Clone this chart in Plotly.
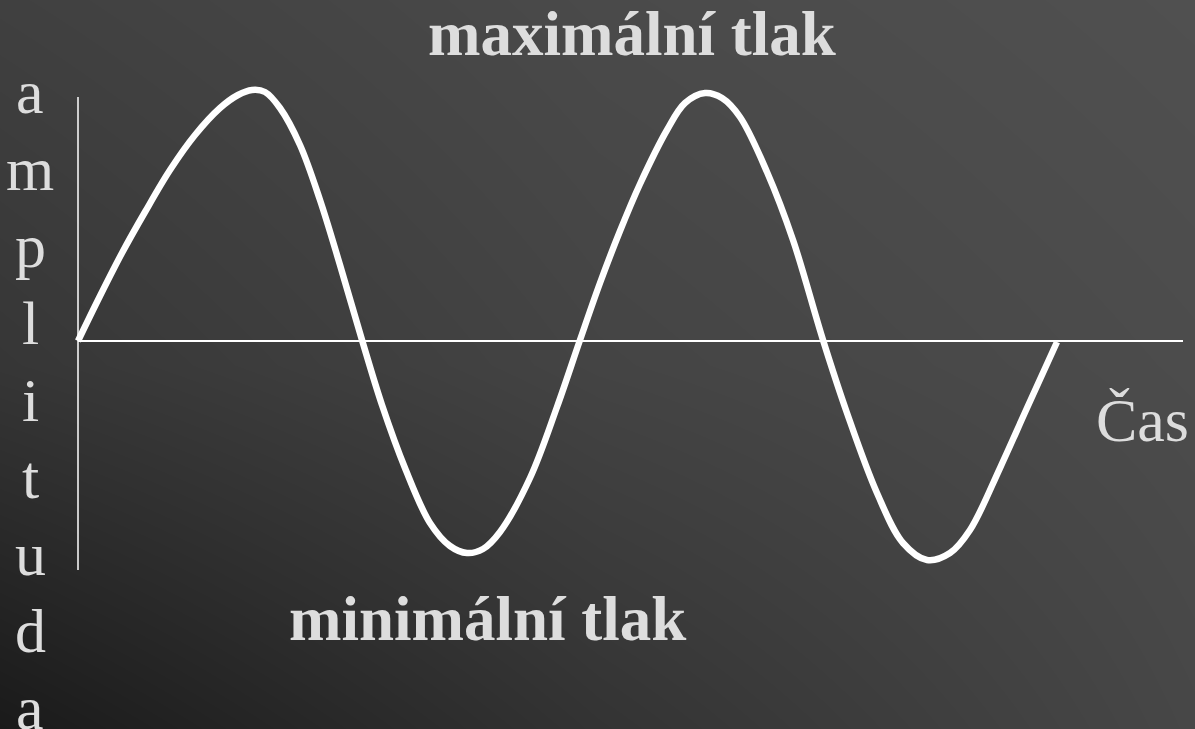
"""Amplituda tlaku v čase – sinusová vlna na tmavém pozadí."""
import plotly.graph_objects as go

# čas (px od počátku osy) a amplituda (px nad osou)
cas = [0, 22, 44, 67, 92, 117, 142, 160, 174, 187, 202, 222, 242, 262, 284,
       304, 327, 352, 372, 389, 405, 422, 452, 479, 502, 522, 542, 562, 589,
       607, 627, 644, 662, 689, 715, 745, 769, 799, 825, 849, 872, 892, 922,
       949, 979]
amplituda = [0, 45, 88, 129, 171, 206, 233, 246, 251, 249, 233, 196, 141, 76,
             1, -64, -127, -182, -205, -212, -208, -191, -137, -66, 1, 58, 110,
             157, 211, 238, 248, 243, 224, 169, 101, 1, -72, -152, -202, -219,
             -212, -189, -127, -67, -1]

# osy grafu
osa_cas = [0, 1105]
osa_amplituda = [244, -229]

popisek_osy_y = list("amplituda")
popisek_max = "maximální tlak"
popisek_min = "minimální tlak"
popisek_cas = "Čas"

# tmavý přechod pozadí (odstíny šedi v rozích a uprostřed)
pozadi = [[26, 51, 71],
          [54, 68, 76],
          [64, 74, 80]]

X0, X1 = -78, 1117
Y0, Y1 = -388, 341
TEXT = "#dddddd"
FONT = "Liberation Serif"

fig = go.Figure()
fig.add_trace(go.Heatmap(
    z=pozadi, x=[X0, (X0 + X1) / 2, X1], y=[Y0, (Y0 + Y1) / 2, Y1],
    zmin=0, zmax=255, zsmooth="best", showscale=False, hoverinfo="skip",
    colorscale=[[0, "rgb(0,0,0)"], [1, "rgb(255,255,255)"]],
))
fig.add_trace(go.Scatter(x=osa_cas, y=[0, 0], mode="lines",
                         line=dict(color="white", width=2), hoverinfo="skip"))
fig.add_trace(go.Scatter(x=[0, 0], y=osa_amplituda, mode="lines",
                         line=dict(color="white", width=1.5), hoverinfo="skip"))
fig.add_trace(go.Scatter(x=cas, y=amplituda, mode="lines",
                         line=dict(color="white", width=6.5, shape="spline", smoothing=1.0)))

anot = [
    dict(text=f"<b>{popisek_max}</b>", x=554, y=307, size=63),
    dict(text=f"<b>{popisek_min}</b>", x=409, y=-278, size=63),
    dict(text=popisek_cas, x=1064, y=-79, size=62),
]
for i, pismeno in enumerate(popisek_osy_y):
    anot.append(dict(text=pismeno, x=-48, y=249 - 77 * i, size=62))

fig.update_layout(
    width=1195, height=729, margin=dict(l=0, r=0, t=0, b=0),
    paper_bgcolor="#333333", plot_bgcolor="#333333",
    showlegend=False,
    xaxis=dict(range=[X0, X1], visible=False, fixedrange=True),
    yaxis=dict(range=[Y0, Y1], visible=False, fixedrange=True),
    annotations=[dict(text=a["text"], x=a["x"], y=a["y"], xref="x", yref="y",
                      showarrow=False, xanchor="center", yanchor="middle",
                      font=dict(family=FONT, size=a["size"], color=TEXT)) for a in anot],
)

fig.write_html("out.html", config={"displayModeBar": False},
               post_script="document.body.style.margin='0';document.body.style.overflow='hidden';")
